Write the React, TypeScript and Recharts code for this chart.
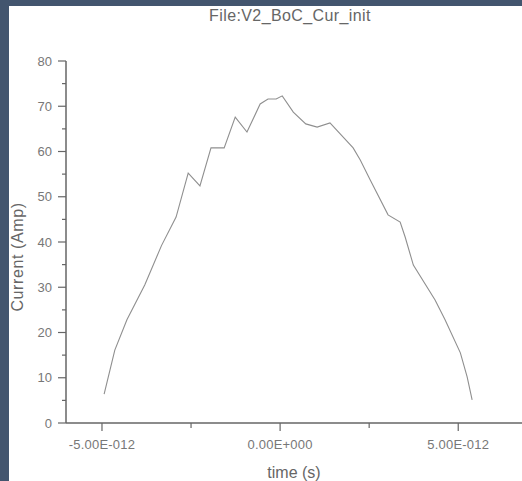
import React from "react";
import { LineChart, Line, XAxis, YAxis } from "recharts";

// time in seconds, current in Amp
const timeValues = [
  -4.94e-12, -4.64e-12, -4.3e-12, -3.8e-12, -3.33e-12, -2.92e-12, -2.58e-12,
  -2.25e-12, -1.94e-12, -1.57e-12, -1.26e-12, -0.93e-12, -0.56e-12, -0.34e-12,
  -0.11e-12, 0.06e-12, 0.37e-12, 0.72e-12, 1.04e-12, 1.4e-12, 2.05e-12,
  2.25e-12, 2.53e-12, 3.03e-12, 3.37e-12, 3.51e-12, 3.74e-12, 4.35e-12,
  4.63e-12, 5.06e-12, 5.25e-12, 5.39e-12,
];
const currentValues = [
  6.4, 16.1, 22.8, 30.5, 39.2, 45.5, 55.2, 52.4, 60.8, 60.8, 67.6, 64.3, 70.5,
  71.6, 71.6, 72.3, 68.7, 66.1, 65.4, 66.3, 60.8, 58.1, 53.7, 46.0, 44.4, 41.1,
  34.9, 27.2, 22.8, 15.5, 10.2, 5.1,
];
const xTicks = [-5e-12, -2.5e-12, 0, 2.5e-12, 5e-12];
const yTicks = [0, 5, 10, 15, 20, 25, 30, 35, 40, 45, 50, 55, 60, 65, 70, 75, 80];

const data = timeValues.map((t, i) => ({ t, cur: currentValues[i] }));

const fmtSci = (v: number) => {
  const [m, e] = v.toExponential(2).split("e");
  const n = parseInt(e, 10);
  const sign = n < 0 ? "-" : "+";
  return `${m}E${sign}${String(Math.abs(n)).padStart(3, "0")}`;
};

const font = "'Liberation Sans', Arial, sans-serif";
const axisColor = "#666";
const textColor = "#777";

const XTick = (props: any) => {
  const { x, y, payload, index } = props;
  const minor = index % 2 === 1;
  return (
    <g>
      <line x1={x} x2={x} y1={y} y2={y + (minor ? 5 : 8)} stroke={axisColor} strokeWidth={1.2} />
      {!minor && (
        <text x={x} y={y + 21} dy="0.35em" textAnchor="middle" fontSize={13}
          fontFamily={font} fill={textColor} letterSpacing={0.2}>
          {fmtSci(payload.value)}
        </text>
      )}
    </g>
  );
};

const YTick = (props: any) => {
  const { x, y, payload, index } = props;
  const minor = index % 2 === 1;
  return (
    <g>
      <line x1={x - (minor ? 4 : 8)} x2={x} y1={y} y2={y} stroke={axisColor} strokeWidth={1.2} />
      {!minor && (
        <text x={x - 14} y={y} dy="0.35em" textAnchor="end" fontSize={13}
          fontFamily={font} fill={textColor}>
          {payload.value}
        </text>
      )}
    </g>
  );
};

export default function App() {
  return (
    <div style={{ position: "absolute", left: 0, top: 0, width: 522, height: 481, background: "#43556e" }}>
      <div style={{ position: "absolute", left: 9, top: 6, width: 513, height: 475, background: "#fff" }}>
        <div style={{
          position: "absolute", left: 131, top: 1, width: 300, textAlign: "center",
          fontFamily: font, fontSize: 16, lineHeight: "18px", color: "#666", letterSpacing: 0.4,
        }}>
          File:V2_BoC_Cur_init
        </div>
        <LineChart width={513} height={475} data={data}
          margin={{ top: 55, right: 0, left: 0, bottom: 0 }}>
          <XAxis dataKey="t" type="number" domain={[-6.01e-12, 6.79e-12]} ticks={xTicks}
            interval={0} height={58} tickSize={0} tickMargin={0} tickLine={false}
            axisLine={{ stroke: axisColor, strokeWidth: 1.5 }} tick={<XTick />}
            allowDataOverflow
            label={{
              content: (p: any) => (
                <text x={p.viewBox.x + p.viewBox.width / 2} y={p.viewBox.y + 49} dy="0.35em"
                  textAnchor="middle" fontSize={16} fontFamily={font} fill="#666">
                  time (s)
                </text>
              ),
            }} />
          <YAxis type="number" domain={[0, 80]} ticks={yTicks} interval={0} width={57}
            tickSize={0} tickMargin={0} tickLine={false}
            axisLine={{ stroke: axisColor, strokeWidth: 1.5 }} tick={<YTick />}
            label={{
              content: () => (
                <text x={8} y={251} dy="0.35em" textAnchor="middle" fontSize={16}
                  fontFamily={font} fill="#666" letterSpacing={0.6}
                  transform="rotate(-90 8 251)">
                  Current (Amp)
                </text>
              ),
            }} />
          <Line type="linear" dataKey="cur" stroke="#8f8f8f" strokeWidth={1.1} dot={false}
            isAnimationActive={false} />
        </LineChart>
      </div>
    </div>
  );
}
